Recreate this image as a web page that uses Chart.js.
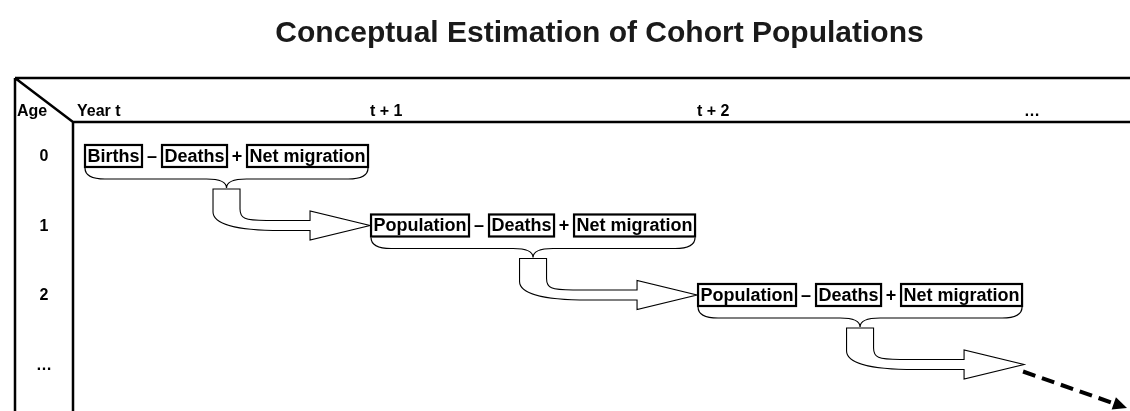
<!DOCTYPE html>
<html><head><meta charset="utf-8">
<script src="https://cdn.jsdelivr.net/npm/chart.js@4.4.1/dist/chart.umd.min.js"></script>
<style>html,body{margin:0;padding:0;background:#fff}#wrap{width:1130px;height:411px}</style>
</head><body><div id="wrap"><canvas id="c" width="1130" height="411"></canvas></div>
<script>
// ---- content ----
const chartTitle = 'Conceptual Estimation of Cohort Populations';
const cornerLabel = 'Age';
const ageLabels = ['0', '1', '2', '…'];
const yearLabels = ['Year t', 't + 1', 't + 2', '…'];
const cohortTerms = [
  ['Births', 'Deaths', 'Net migration'],
  ['Population', 'Deaths', 'Net migration'],
  ['Population', 'Deaths', 'Net migration']
];
const termOperators = ['–', '+'];

const FONT = '"Liberation Sans", Arial, Helvetica, sans-serif';

// layout (scale units): x = offset from frame left, y = age row index
const AGE_COL_END = 58;
const HEADER_LINE = -0.49;
const ROW0_START = 70;

const diagramPlugin = {
  id: 'cohortDiagram',
  afterDraw(chart) {
    const ctx = chart.ctx, xs = chart.scales.x, ys = chart.scales.y, ca = chart.chartArea;
    const X = v => xs.getPixelForValue(v), Y = v => ys.getPixelForValue(v);
    ctx.save();
    ctx.fillStyle = '#000'; ctx.strokeStyle = '#000';

    // title, centred over the year columns
    ctx.font = 'bold 30px ' + FONT;
    ctx.textAlign = 'center'; ctx.textBaseline = 'middle';
    ctx.fillStyle = '#1a1a1a';
    ctx.fillText(chartTitle, (X(AGE_COL_END) + ca.right) / 2 - 2, ca.top / 2 - 5);
    ctx.fillStyle = '#000';

    // frame
    ctx.lineWidth = 2.5; ctx.lineCap = 'butt';
    const hx = X(AGE_COL_END), hy = Y(HEADER_LINE);
    ctx.beginPath();
    ctx.moveTo(ca.left, ca.top); ctx.lineTo(ca.right, ca.top);
    ctx.moveTo(ca.left, ca.top); ctx.lineTo(ca.left, ca.bottom);
    ctx.moveTo(ca.left, ca.top); ctx.lineTo(hx, hy);
    ctx.moveTo(hx, hy); ctx.lineTo(ca.right, hy);
    ctx.moveTo(hx, hy); ctx.lineTo(hx, ca.bottom);
    ctx.stroke();

    // row chain geometry
    ctx.font = 'bold 18px ' + FONT;
    const PAD = 2.5, OPGAP = 20, BOXH = 22, CHAIN = 3;
    const rows = [];
    let start = X(ROW0_START);
    cohortTerms.forEach((terms, i) => {
      const boxes = [];
      let x = start;
      terms.forEach((t, k) => {
        const w = ctx.measureText(t).width + 2 * PAD;
        boxes.push({ t, x, w });
        x += w;
        if (k < terms.length - 1) x += OPGAP;
      });
      rows.push({ start, end: x, boxes, y: Y(i) });
      start = x + CHAIN;
    });
    const rowStarts = rows.map(r => r.start).concat([start]);

    // header labels
    ctx.font = 'bold 16px ' + FONT;
    ctx.textBaseline = 'alphabetic'; ctx.textAlign = 'left';
    const hb = Y(HEADER_LINE) - 6;
    ctx.fillText(cornerLabel, X(2), hb);
    yearLabels.forEach((lab, j) => {
      const lx = j === 0 ? hx + 4 : rowStarts[j] - 1;
      ctx.fillText(lab, lx, hb);
    });

    // age labels
    ctx.textAlign = 'center'; ctx.textBaseline = 'middle';
    ageLabels.forEach((lab, i) => {
      ctx.fillText(lab, (ca.left + hx) / 2, Y(i) + 1);
    });

    // boxes and operators
    rows.forEach((r, i) => {
      ctx.font = 'bold 18px ' + FONT;
      ctx.lineWidth = 2.2;
      r.boxes.forEach((b, k) => {
        ctx.strokeRect(b.x, r.y - BOXH / 2, b.w, BOXH);
        ctx.textAlign = 'center'; ctx.textBaseline = 'middle';
        ctx.fillText(b.t, b.x + b.w / 2, r.y + 1);
        if (k < r.boxes.length - 1) {
          ctx.fillText(termOperators[k], b.x + b.w + OPGAP / 2, r.y + 1);
        }
      });
      // brace
      const top = r.y + 12, mid = r.y + 23, tip = r.y + 32, cx = (r.start + r.end) / 2, rr = 20;
      ctx.lineWidth = 1.2;
      ctx.beginPath();
      ctx.moveTo(r.start, top);
      ctx.quadraticCurveTo(r.start, mid, r.start + rr, mid);
      ctx.lineTo(cx - rr, mid);
      ctx.quadraticCurveTo(cx, mid, cx, tip);
      ctx.quadraticCurveTo(cx, mid, cx + rr, mid);
      ctx.lineTo(r.end - rr, mid);
      ctx.quadraticCurveTo(r.end, mid, r.end, top);
      ctx.stroke();

      // curved block arrow to next row
      const ny = Y(i + 1), tipX = rowStarts[i + 1] - 1, back = tipX - 60;
      const tt = tip + 1, th = 13.5, up = ny - 5, lo = ny + 5;
      ctx.beginPath();
      ctx.moveTo(cx - th, tt);
      ctx.lineTo(cx + th, tt);
      ctx.lineTo(cx + th, tt + 20);
      ctx.bezierCurveTo(cx + th, up - 2, cx + 18, up, cx + 40, up);
      ctx.lineTo(back, up);
      ctx.lineTo(back, ny - 14.5);
      ctx.lineTo(tipX, ny);
      ctx.lineTo(back, ny + 14.5);
      ctx.lineTo(back, lo);
      ctx.lineTo(cx + 55, lo);
      ctx.bezierCurveTo(cx + 5, lo, cx - th, lo - 8, cx - th, tt + 23);
      ctx.closePath();
      ctx.fillStyle = '#fff'; ctx.fill();
      ctx.fillStyle = '#000';
      ctx.lineWidth = 1.1; ctx.stroke();
    });

    // dashed continuation arrow
    const sx = rowStarts[3] - 2, sy = Y(3) + 7;
    const ex = ca.right - 3, ey = ca.bottom - 3;
    const ang = Math.atan2(ey - sy, ex - sx), hl = 14, hw = 6.5;
    const bx = ex - hl * Math.cos(ang), by = ey - hl * Math.sin(ang);
    ctx.lineWidth = 4; ctx.setLineDash([13, 7]);
    ctx.beginPath(); ctx.moveTo(sx, sy); ctx.lineTo(bx, by); ctx.stroke();
    ctx.setLineDash([]);
    ctx.beginPath();
    ctx.moveTo(ex, ey);
    ctx.lineTo(bx + hw * Math.sin(ang), by - hw * Math.cos(ang));
    ctx.lineTo(bx - hw * Math.sin(ang), by + hw * Math.cos(ang));
    ctx.closePath(); ctx.fill();
    ctx.restore();
  }
};

new Chart(document.getElementById('c'), {
  type: 'scatter',
  data: { datasets: [{ label: 'cohort', data: [], pointRadius: 0 }] },
  options: {
    responsive: false, animation: false, devicePixelRatio: 1,
    layout: { padding: { top: 78, left: 15, right: 0, bottom: 0 } },
    plugins: { legend: { display: false }, tooltip: { enabled: false }, title: { display: false } },
    scales: {
      x: { type: 'linear', min: 0, max: 1115, display: false },
      y: { type: 'linear', min: -1.122, max: 3.669, reverse: true, display: false }
    }
  },
  plugins: [diagramPlugin]
});
</script></body></html>
